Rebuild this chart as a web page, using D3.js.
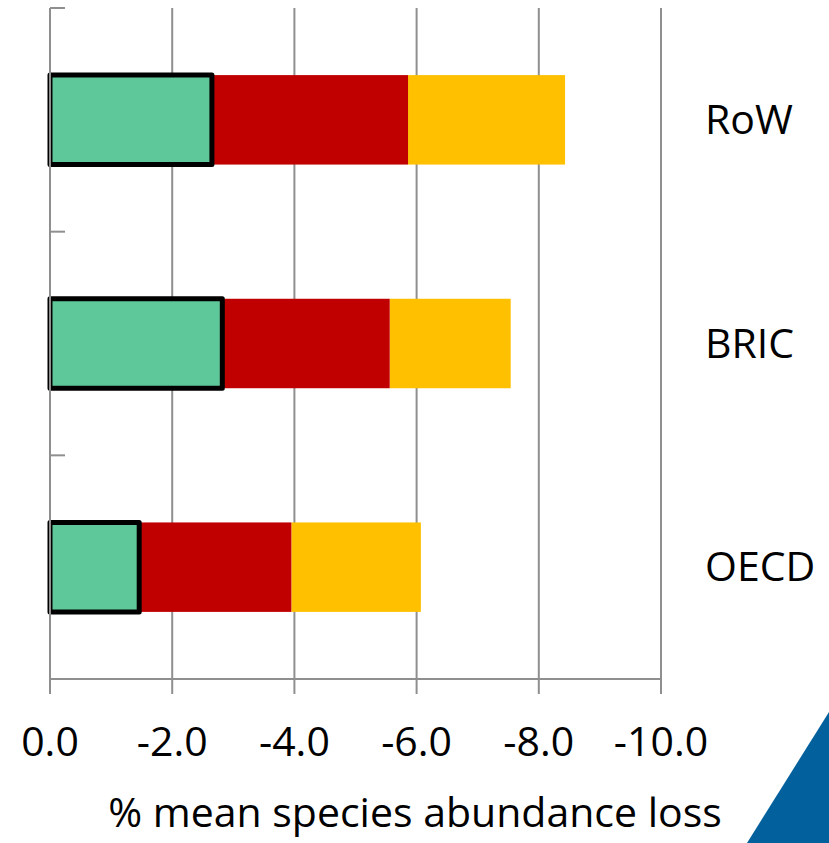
<!DOCTYPE html>
<html>
<head>
<meta charset="utf-8">
<script src="https://cdn.jsdelivr.net/npm/d3@7"></script>
<style>
  html, body { margin: 0; padding: 0; background: #fff; }
  svg { display: block; }
  text { font-family: "Open Sans", "Noto Sans", sans-serif; fill: #000; }
</style>
</head>
<body>
<div id="chart"></div>
<script>
// Regions, top to bottom
const regions = ["RoW", "BRIC", "OECD"];
// Stacked components of mean species abundance loss (%), per region
const seriesKeys = ["green", "red", "yellow"];
const greenLoss  = [-2.65, -2.82, -1.46];
const redLoss    = [-3.21, -2.74, -2.49];
const yellowLoss = [-2.57, -1.98, -2.12];
const seriesColors = ["#5FC89B", "#C00000", "#FFC000"];
// Axis ticks
const tickValues = [0, -2, -4, -6, -8, -10];
const axisTitle = "% mean species abundance loss";

const W = 829, H = 843;
const svg = d3.select("#chart").append("svg")
  .attr("width", W).attr("height", H);

const rows = regions.map((r, i) => ({
  region: r, green: greenLoss[i], red: redLoss[i], yellow: yellowLoss[i]
}));

const x = d3.scaleLinear().domain([0, -10]).range([50, 661]);
const y = d3.scaleBand().domain(regions).range([8, 679])
  .paddingInner(0.6).paddingOuter(0.3);

const gridColor = "#8f8f8f";

// Vertical gridlines with ticks below the baseline
svg.append("g").selectAll("line").data(tickValues).join("line")
  .attr("x1", d => x(d)).attr("x2", d => x(d))
  .attr("y1", 8).attr("y2", 694)
  .attr("stroke", gridColor).attr("stroke-width", 2);

// Stacked bars
const stack = d3.stack().keys(seriesKeys).offset(d3.stackOffsetDiverging);
const layers = stack(rows);
const color = d3.scaleOrdinal().domain(seriesKeys).range(seriesColors);

// Draw later segments first so the outlined first segment sits on top
layers.slice().reverse().forEach(layer => {
  const outlined = layer.key === "green";
  svg.append("g").selectAll("rect").data(layer).join("rect")
    .attr("x", d => Math.min(x(d[0]), x(d[1])))
    .attr("width", d => Math.abs(x(d[0]) - x(d[1])))
    .attr("y", d => y(d.data.region))
    .attr("height", y.bandwidth())
    .attr("fill", color(layer.key))
    .attr("stroke", outlined ? "#000" : "none")
    .attr("stroke-width", outlined ? 5 : 0)
    .attr("stroke-linejoin", "round");
});

// Value axis baseline and category axis with inward ticks
svg.append("line")
  .attr("x1", x(0)).attr("x2", x(-10)).attr("y1", 679).attr("y2", 679)
  .attr("stroke", gridColor).attr("stroke-width", 2);
svg.append("line")
  .attr("x1", x(0)).attr("x2", x(0)).attr("y1", 8).attr("y2", 694)
  .attr("stroke", gridColor).attr("stroke-width", 2);
const bandEdges = [8, 679].concat(regions.slice(1).map(r => y(r) - y.step() * y.paddingInner() / 2));
svg.append("g").selectAll("line").data(bandEdges).join("line")
  .attr("x1", x(0)).attr("x2", x(0) + 15)
  .attr("y1", d => d).attr("y2", d => d)
  .attr("stroke", gridColor).attr("stroke-width", 2);

// Tick labels
svg.append("g").selectAll("text").data(tickValues).join("text")
  .attr("x", d => x(d)).attr("y", 756)
  .attr("text-anchor", "middle")
  .attr("font-size", 41)
  .text(d => d3.format(".1f")(d).replace("−", "-"));

// Region labels
svg.append("g").selectAll("text").data(regions).join("text")
  .attr("x", 705)
  .attr("y", d => y(d) + y.bandwidth() / 2 + 14)
  .attr("font-size", 41)
  .text(d => d);

// Axis title
svg.append("text")
  .attr("x", 415).attr("y", 827)
  .attr("text-anchor", "middle")
  .attr("font-size", 41)
  .text(axisTitle);

// Corner accent
svg.append("path")
  .attr("d", d3.line()([[829, 712], [829, 843], [747, 843]]) + "Z")
  .attr("fill", "#02619D");
</script>
</body>
</html>
